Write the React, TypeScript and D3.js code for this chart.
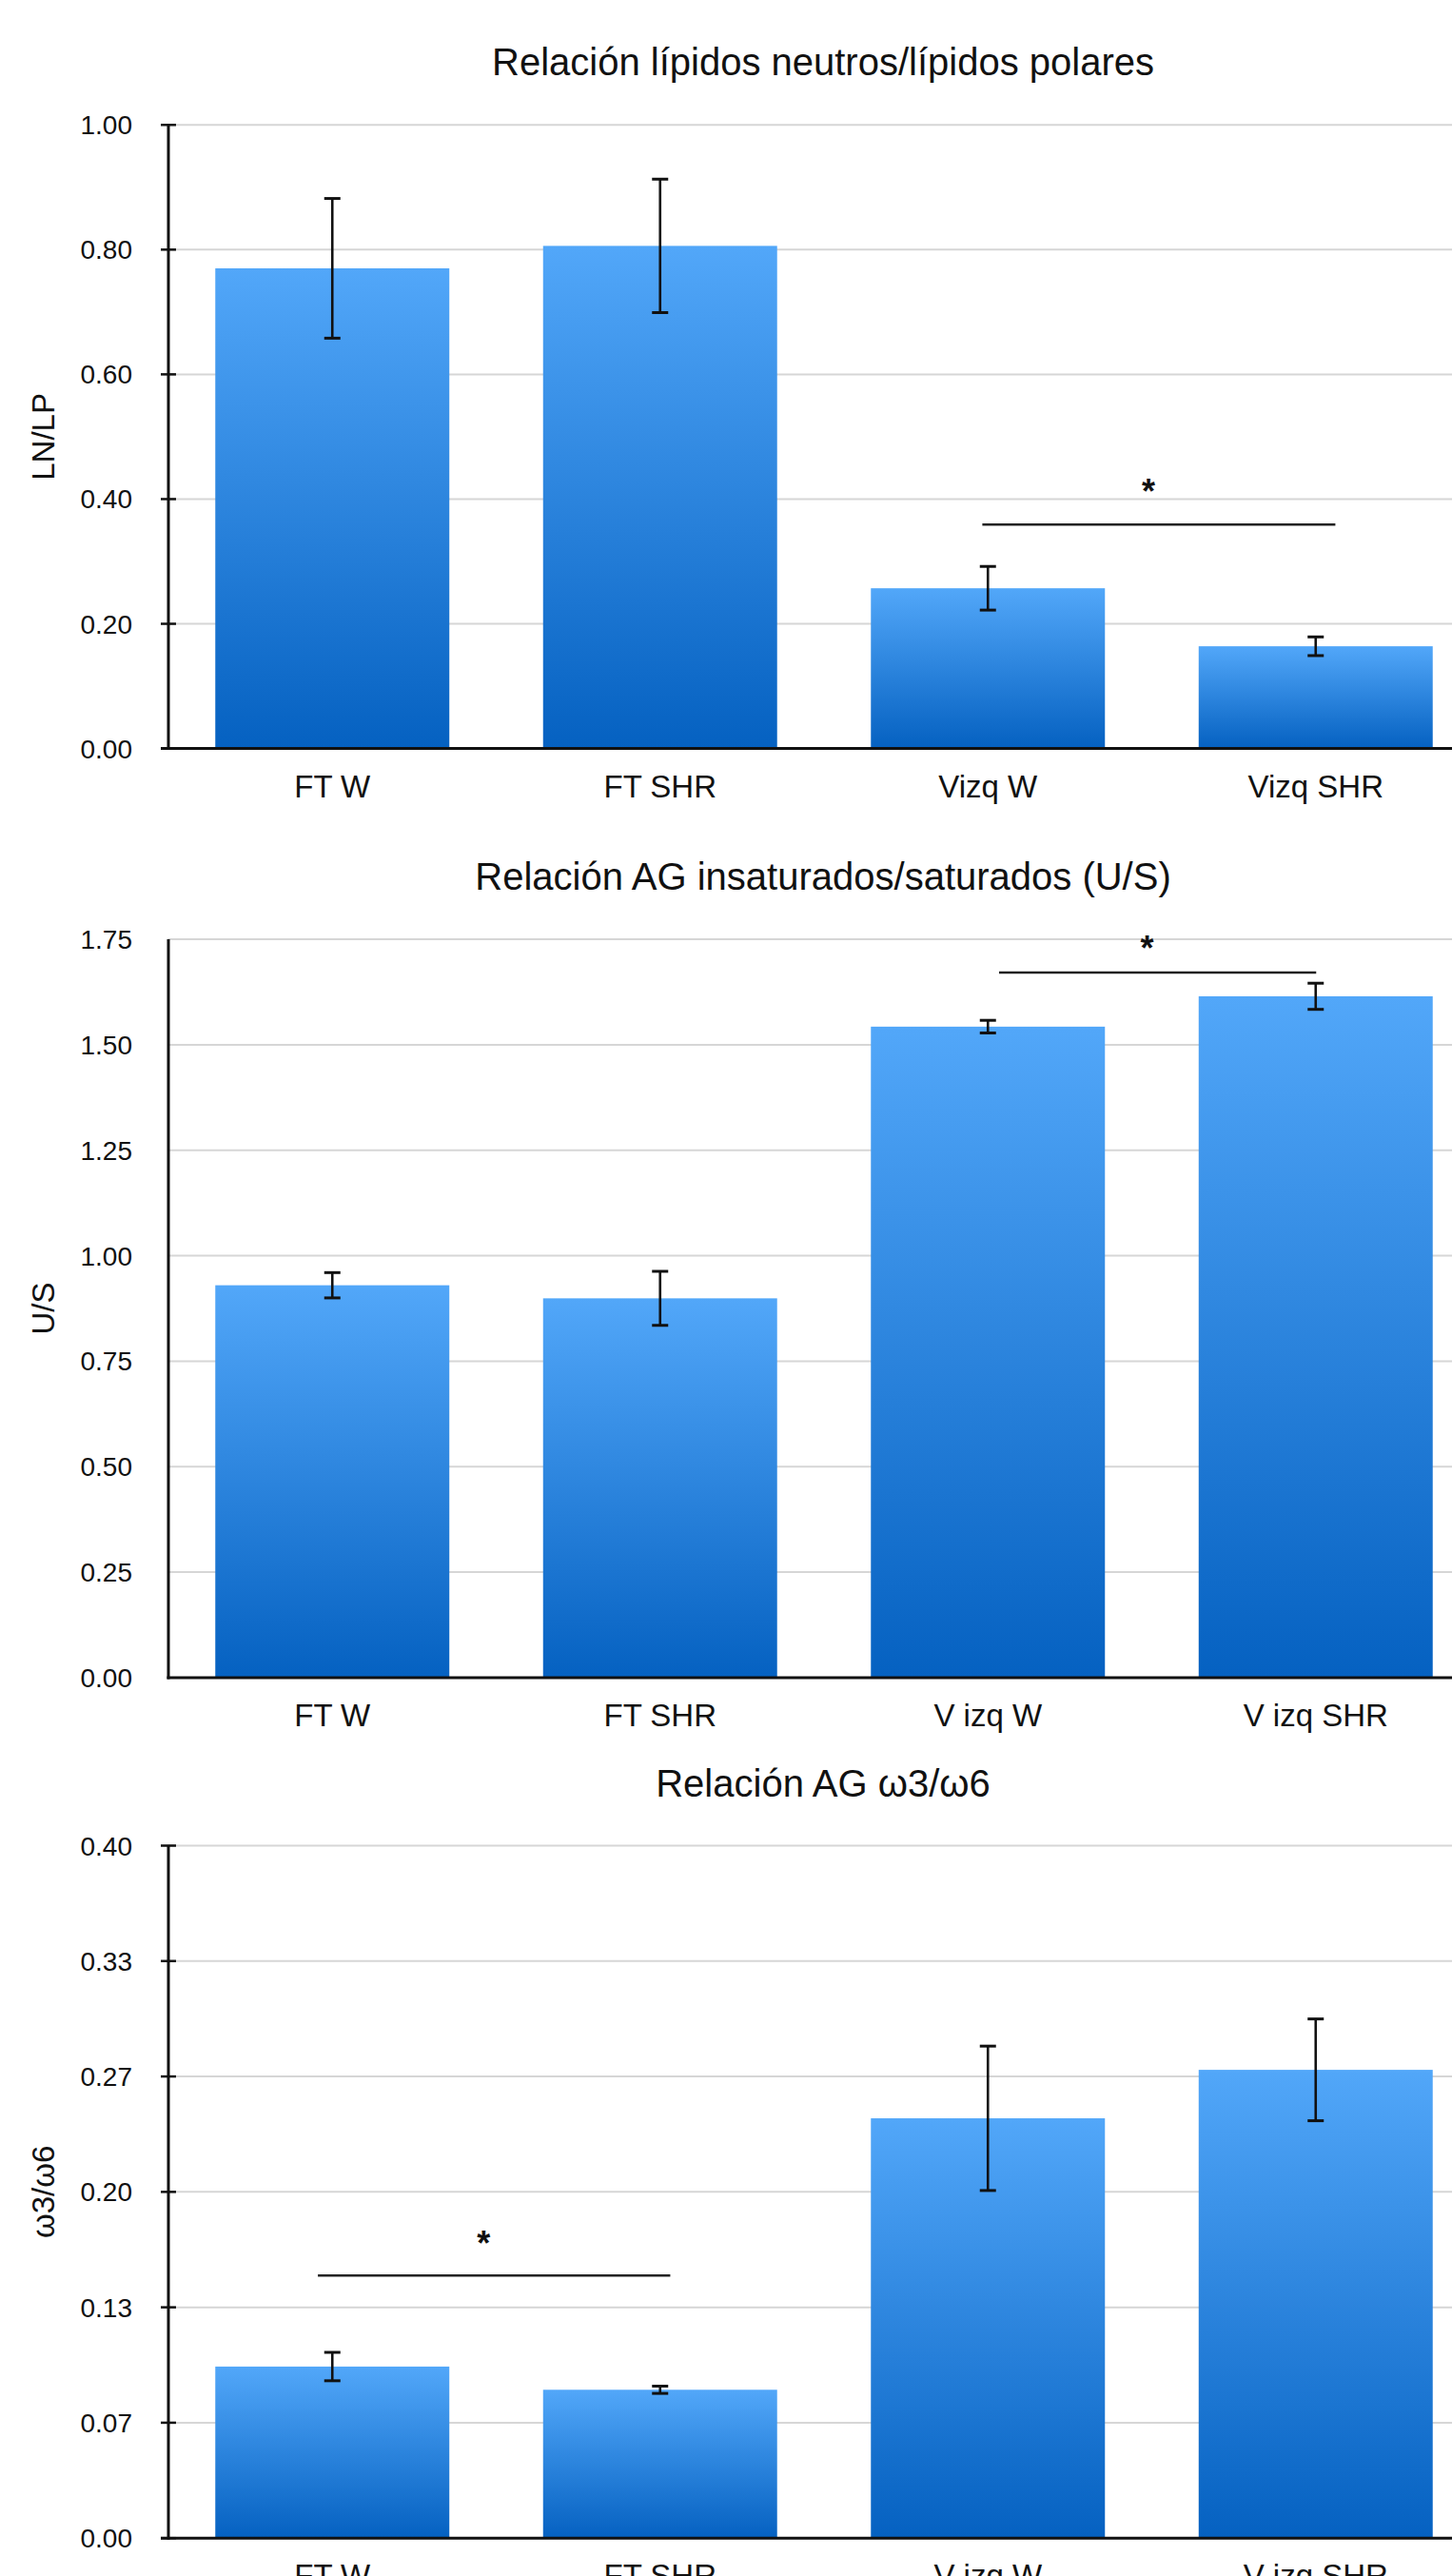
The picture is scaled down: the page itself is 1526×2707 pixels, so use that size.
import React from "react";
import * as d3 from "d3";

// ---------- data ----------
const categories1 = ["FT W", "FT SHR", "Vizq W", "Vizq SHR"];
const values1 = [0.770, 0.806, 0.257, 0.164];
const errors1 = [0.112, 0.107, 0.035, 0.015];
const ticks1 = [0, 0.2, 0.4, 0.6, 0.8, 1.0];

const categories2 = ["FT W", "FT SHR", "V izq W", "V izq SHR"];
const values2 = [0.930, 0.899, 1.543, 1.615];
const errors2 = [0.030, 0.064, 0.015, 0.031];
const ticks2 = [0, 0.25, 0.5, 0.75, 1.0, 1.25, 1.5, 1.75];

const categories3 = ["FT W", "FT SHR", "V izq W", "V izq SHR"];
const values3 = [0.0991, 0.0857, 0.2425, 0.2705];
const errors3 = [0.0082, 0.0021, 0.0417, 0.0294];
const ticks3 = [0, 0.4 / 6, 0.8 / 6, 1.2 / 6, 1.6 / 6, 2.0 / 6, 0.4];

const titles = [
  "Relación lípidos neutros/lípidos polares",
  "Relación AG insaturados/saturados (U/S)",
  "Relación AG ω3/ω6",
];
const yLabels = ["LN/LP", "U/S", "ω3/ω6"];
const yMax = [1.0, 1.75, 0.4];
// significance annotations: [fromIndex, toIndex, fromOffset, toOffset, lineValue, starValue]
const sig1 = [2, 3, -0.017, 0.06, 0.359, 0.4186];
const sig2 = [2, 3, 0.034, 0.0015, 1.671, 1.74];
const sig3 = [0, 1, -0.044, 0.031, 0.1517, 0.1727];

// ---------- layout ----------
const W = 1526;
const H = 2707;
const plotLeft = 177;
const plotRight = 1555;
const panels = [
  { top: 131.25, bottom: 786.6, tickMarks: true },
  { top: 987.1, bottom: 1762.9, tickMarks: false },
  { top: 1939.5, bottom: 2667.2, tickMarks: true },
];

const FONT = "'Liberation Sans', Arial, Helvetica, sans-serif";

type PanelProps = {
  idx: number;
  cats: string[];
  vals: number[];
  errs: number[];
  ticks: number[];
  sig: number[];
};

function Panel({ idx, cats, vals, errs, ticks, sig }: PanelProps) {
  const p = panels[idx];
  const x = d3
    .scaleBand<string>()
    .domain(cats)
    .range([plotLeft, plotRight])
    .paddingInner(0.286)
    .paddingOuter(0.143);
  const y = d3.scaleLinear().domain([0, yMax[idx]]).range([p.bottom, p.top]);
  const fmt = d3.format(".2f");
  const bw = x.bandwidth();
  const step = x.step();
  const cx = (i: number) => (x(cats[i]) as number) + bw / 2;
  const capHalf = 8.5;

  const sx1 = cx(sig[0]) + sig[2] * step;
  const sx2 = cx(sig[1]) + sig[3] * step;

  return (
    <g>
      <text
        x={865}
        y={p.top - 52}
        textAnchor="middle"
        fontSize={40}
        fontFamily={FONT}
        fill="#111"
      >
        {titles[idx]}
      </text>
      {/* gridlines */}
      {ticks.map((t, i) =>
        t === 0 ? null : (
          <line
            key={"g" + i}
            x1={plotLeft}
            x2={W}
            y1={y(t)}
            y2={y(t)}
            stroke="#d6d6d6"
            strokeWidth={2}
          />
        )
      )}
      {/* bars */}
      {vals.map((v, i) => (
        <rect
          key={"b" + i}
          x={x(cats[i])}
          y={y(v)}
          width={bw}
          height={p.bottom - y(v)}
          fill="url(#barGrad)"
        />
      ))}
      {/* error bars */}
      {vals.map((v, i) => (
        <g key={"e" + i} stroke="#111" strokeWidth={2.6}>
          <line x1={cx(i)} x2={cx(i)} y1={y(v + errs[i])} y2={y(v - errs[i])} />
          <line x1={cx(i) - capHalf} x2={cx(i) + capHalf} y1={y(v + errs[i])} y2={y(v + errs[i])} strokeWidth={3} />
          <line x1={cx(i) - capHalf} x2={cx(i) + capHalf} y1={y(v - errs[i])} y2={y(v - errs[i])} strokeWidth={3} />
        </g>
      ))}
      {/* significance */}
      <line x1={sx1} x2={sx2} y1={y(sig[4])} y2={y(sig[4])} stroke="#222" strokeWidth={2.5} />
      <text
        x={(sx1 + sx2) / 2 - 11}
        y={y(sig[5]) + 17}
        textAnchor="middle"
        fontSize={36}
        fontWeight="bold"
        fontFamily={FONT}
        fill="#111"
      >
        *
      </text>
      {/* axes */}
      <line x1={plotLeft} x2={plotLeft} y1={p.top} y2={p.bottom + 1.5} stroke="#111" strokeWidth={3} />
      <line x1={plotLeft - (p.tickMarks ? 8 : 1.5)} x2={W} y1={p.bottom} y2={p.bottom} stroke="#111" strokeWidth={3} />
      {p.tickMarks &&
        ticks.map((t, i) => (
          <line key={"tm" + i} x1={plotLeft - 8} x2={plotLeft + 8} y1={y(t)} y2={y(t)} stroke="#111" strokeWidth={2.5} />
        ))}
      {ticks.map((t, i) => (
        <text
          key={"tl" + i}
          x={139}
          y={y(t) + 10}
          textAnchor="end"
          fontSize={28}
          fontFamily={FONT}
          fill="#111"
        >
          {fmt(t)}
        </text>
      ))}
      {cats.map((c, i) => (
        <text
          key={"xl" + i}
          x={cx(i)}
          y={p.bottom + 51}
          textAnchor="middle"
          fontSize={33}
          fontFamily={FONT}
          fill="#111"
        >
          {c}
        </text>
      ))}
      <text
        transform={`translate(57,${(p.top + p.bottom) / 2}) rotate(-90)`}
        textAnchor="middle"
        fontSize={33}
        fontFamily={FONT}
        fill="#111"
      >
        {yLabels[idx]}
      </text>
    </g>
  );
}

export default function App() {
  return (
    <svg
      width={W}
      height={H}
      viewBox={`0 0 ${W} ${H}`}
      style={{ position: "absolute", left: 0, top: 0, display: "block", background: "#fff" }}
    >
      <defs>
        <linearGradient id="barGrad" x1="0" y1="0" x2="0" y2="1">
          <stop offset="0%" stopColor="#52a7f9" />
          <stop offset="100%" stopColor="#0561c1" />
        </linearGradient>
      </defs>
      <rect x={0} y={0} width={W} height={H} fill="#fff" />
      <Panel idx={0} cats={categories1} vals={values1} errs={errors1} ticks={ticks1} sig={sig1} />
      <Panel idx={1} cats={categories2} vals={values2} errs={errors2} ticks={ticks2} sig={sig2} />
      <Panel idx={2} cats={categories3} vals={values3} errs={errors3} ticks={ticks3} sig={sig3} />
    </svg>
  );
}
